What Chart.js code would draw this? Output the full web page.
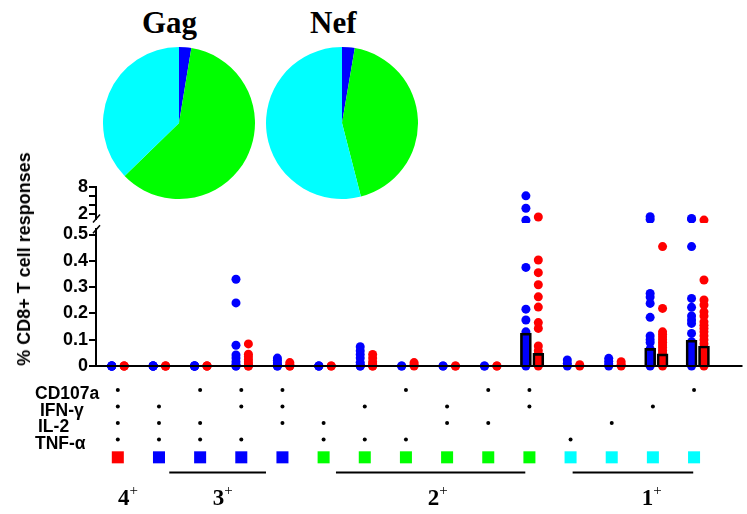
<!DOCTYPE html>
<html>
<head>
<meta charset="utf-8">
<script src="https://cdn.jsdelivr.net/npm/chart.js@4.4.1/dist/chart.umd.min.js"></script>
<style>
  html, body { margin: 0; padding: 0; background: #fff; }
  #wrap { position: relative; width: 747px; height: 514px; overflow: hidden; }
  #wrap canvas, #wrap .lbl { position: absolute; }
  .pieTitle { font: bold 31px 'Liberation Serif', 'Times New Roman', serif; line-height: 1; }
  .rowLbl { font: bold 17.5px 'Liberation Sans', Arial, sans-serif; line-height: 1; white-space: nowrap; }
  .grpLbl { font: bold 23px 'Liberation Serif', 'Times New Roman', serif; line-height: 1; white-space: nowrap; transform: translateX(-50%); }
  .grpLbl sup { font-weight: normal; font-size: 15px; vertical-align: baseline; position: relative; top: -10px; line-height: 0; }
  #yTitle { font: bold 18px 'Liberation Sans', Arial, sans-serif; line-height: 20px; white-space: nowrap;
            transform: translate(-50%, -50%) rotate(-90deg); }
</style>
</head>
<body>
<div id="wrap">
  <canvas id="gagPie" width="152" height="152" style="left:103px; top:47px"></canvas>
  <canvas id="nefPie" width="152" height="152" style="left:266px; top:47px"></canvas>
  <canvas id="upper" width="747" height="65" style="left:0; top:170px"></canvas>
  <canvas id="lower" width="747" height="167" style="left:0; top:213px"></canvas>
  <canvas id="table" width="747" height="139" style="left:0; top:375px"></canvas>
  <div class="lbl pieTitle" style="left:142px; top:7px">Gag</div>
  <div class="lbl pieTitle" style="left:310px; top:7px">Nef</div>
  <div class="lbl" id="yTitle" style="left:24px; top:259px">% CD8+ T cell responses</div>
</div>
<script>
// pie charts: share of each functional group
const pieLabels = ['4+', '3+', '2+', '1+']
const gagShare = [0, 2.6, 60.1, 37.3]
const nefShare = [0, 2.7, 43.3, 54.0]

// functions measured, one flag per column (15 columns)
const cytokines = ['CD107a', 'IFN-γ', 'IL-2', 'TNF-α']
const cd107a = [1, 0, 1, 1, 1, 0, 0, 1, 0, 1, 1, 0, 0, 0, 1]
const ifng   = [1, 1, 0, 1, 1, 0, 1, 0, 1, 0, 1, 0, 0, 1, 0]
const il2    = [1, 1, 1, 0, 1, 1, 0, 0, 1, 1, 0, 0, 1, 0, 0]
const tnfa   = [1, 1, 1, 1, 0, 1, 1, 1, 0, 0, 0, 1, 0, 0, 0]
const groups = ['4', '3', '2', '1']

// responses per column (blue = Gag, red = Nef)
const gagResponses = [
  [0, 0, 0, 0, 0],
  [0, 0, 0, 0, 0],
  [0, 0, 0, 0, 0],
  [0.33, 0.24, 0.079, 0.042, 0.03, 0.016, 0.005, 0, 0],
  [0.03, 0.022, 0.012, 0.005, 0, 0],
  [0, 0, 0],
  [0.073, 0.058, 0.044, 0.03, 0.014, 0.005, 0, 0],
  [0, 0],
  [0, 0],
  [0, 0],
  [6.04, 3.29, 0.6, 0.375, 0.216, 0.175, 0.13, 0.115, 0.1, 0.085, 0.07, 0.055, 0.045, 0.035, 0.025, 0.015, 0.005, 0],
  [0.023, 0.01, 0],
  [0.029, 0.018, 0.008, 0],
  [1.4, 0.8, 0.276, 0.262, 0.238, 0.185, 0.114, 0.1, 0.089, 0.065, 0.05, 0.04, 0.03, 0.02, 0.01, 0],
  [1.0, 0.85, 0.454, 0.257, 0.223, 0.19, 0.175, 0.162, 0.124, 0.092, 0.08, 0.065, 0.05, 0.035, 0.02, 0.01, 0]
]
const nefResponses = [
  [0, 0, 0],
  [0, 0, 0],
  [0, 0, 0],
  [0.084, 0.045, 0.035, 0.025, 0.015, 0.008, 0, 0],
  [0.013, 0.006, 0, 0],
  [0, 0],
  [0.044, 0.03, 0.016, 0.008, 0, 0],
  [0.013, 0.005, 0],
  [0, 0],
  [0, 0],
  [1.33, 0.403, 0.355, 0.309, 0.263, 0.224, 0.165, 0.143, 0.076, 0.058, 0.045, 0.035, 0.02, 0],
  [0.005, 0],
  [0.016, 0.006, 0],
  [0.454, 0.219, 0.13, 0.12, 0.11, 0.1, 0.09, 0.08, 0.07, 0.06, 0.05, 0.04, 0.03, 0.02, 0.01, 0],
  [0.65, 0.327, 0.251, 0.232, 0.206, 0.19, 0.168, 0.155, 0.143, 0.13, 0.115, 0.1, 0.085, 0.07, 0.055, 0.04, 0.025, 0.012, 0]
]
const gagMedian = [0, 0, 0, 0, 0, 0, 0, 0, 0, 0, 0.125, 0, 0, 0.067, 0.098]
const nefMedian = [0, 0, 0, 0, 0, 0, 0, 0, 0, 0, 0.048, 0, 0, 0.046, 0.076]

// axis ticks
const upperTicks = [2, 4, 6, 8]
const upperTickLabels = ['2', '', '', '8']
const lowerTicks = [0, 0.1, 0.2, 0.3, 0.4, 0.5]
const lowerTickLabels = ['0', '0.1', '0.2', '0.3', '0.4', '0.5']

// layout bits
const BLUE = '#0000ff', RED = '#ff0000', GREEN = '#00ff00', CYAN = '#00ffff'
const groupColor = { 4: RED, 3: BLUE, 2: GREEN, 1: CYAN }
const pieColors = [RED, BLUE, GREEN, CYAN]
const xMin = 0.47, xMax = 16.08
const lowerMax = 0.52
const dodge = 0.15
const rowLabelLeft = [35, 40, 38, 35]
const groupLabelCol = [1.25, 3.55, 8.77, 13.97]
const groupLineCols = [null, [2.25, 4.6], [6.3, 10.9], [12.05, 14.98]]
const squareRow = 4.08, lineRow = 5, groupLabelRow = 7

Chart.defaults.color = '#000'
Chart.defaults.font.family = "'Liberation Sans', Arial, sans-serif"

const tickFont = { size: 18, weight: 'bold' }
const markers = [cd107a, ifng, il2, tnfa]
const nFunctions = cd107a.map((_, i) => markers.reduce((s, m) => s + m[i], 0))

const axisBreak = {
  id: 'axisBreak',
  afterDraw(chart, args, opts) {
    const { ctx, chartArea } = chart
    const y = opts.at === 'bottom' ? chartArea.bottom : chartArea.top
    const x = chartArea.left
    ctx.save()
    ctx.strokeStyle = '#000'
    ctx.lineWidth = 1.5
    ctx.beginPath()
    ctx.moveTo(x - 3, y + 4)
    ctx.lineTo(x + 4, y - 4)
    ctx.stroke()
    ctx.restore()
  }
}

const points = (series, offset, keep) => {
  const out = []
  series.forEach((vals, i) => vals.forEach(v => {
    if (keep(v)) out.push({ x: i + 1 + offset, y: v })
  }))
  return out
}

const dots = (data, color, clip) => ({
  type: 'scatter', data, order: 1, clip,
  pointRadius: 4.5, pointHoverRadius: 4.5, pointBorderWidth: 0,
  backgroundColor: color, borderColor: color
})

const xAxis = { type: 'linear', min: xMin, max: xMax, display: false, offset: false }

const yAxis = (min, max, ticks, labels, zeroLine) => ({
  type: 'linear', min, max,
  afterFit: s => { s.width = 96 },
  afterBuildTicks: s => { s.ticks = ticks.map(v => ({ value: v })) },
  ticks: {
    font: tickFont, padding: 1, autoSkip: false,
    callback: v => labels[ticks.indexOf(v)]
  },
  grid: {
    z: 1, lineWidth: 2, tickWidth: 2, tickLength: 7, tickColor: '#000', drawOnChartArea: true,
    color: c => (zeroLine && c.tick && c.tick.value === 0) ? '#000' : 'rgba(0,0,0,0)'
  },
  border: { display: true, color: '#000', width: 2, z: 1 }
})

const baseOptions = (padding, yCfg, at) => ({
  responsive: false, animation: false,
  layout: { padding },
  events: [],
  plugins: { legend: { display: false }, tooltip: { enabled: false }, axisBreak: { at } },
  scales: { x: xAxis, y: yCfg }
})

// upper segment, broken below 1; dots falling into the break are cut 4.5px under it
const upperClip = { left: false, right: false, top: false, bottom: 4.5 }
new Chart(document.getElementById('upper'), {
  type: 'scatter',
  data: {
    datasets: [
      dots(points(gagResponses, -dodge, v => v > lowerMax), BLUE, upperClip),
      dots(points(nefResponses, dodge, v => v > lowerMax), RED, upperClip)
    ]
  },
  options: baseOptions({ top: 17, bottom: 16.5, left: 0, right: 2 },
    yAxis(1, 8, upperTicks, upperTickLabels, false), 'bottom'),
  plugins: [axisBreak]
})

// lower segment (0 .. 0.5)
new Chart(document.getElementById('lower'), {
  type: 'scatter',
  data: {
    datasets: [
      dots(points(gagResponses, -dodge, v => v <= lowerMax), BLUE, false),
      dots(points(nefResponses, dodge, v => v <= lowerMax), RED, false),
      {
        type: 'bar', order: 0, grouped: false, barThickness: 11,
        data: gagMedian.map((v, i) => ({ x: i + 1 - dodge, y: v })),
        backgroundColor: 'rgba(0,0,0,0)', borderColor: '#000', borderWidth: 2
      },
      {
        type: 'bar', order: 0, grouped: false, barThickness: 11,
        data: nefMedian.map((v, i) => ({ x: i + 1 + dodge, y: v })),
        backgroundColor: 'rgba(0,0,0,0)', borderColor: '#000', borderWidth: 2
      }
    ]
  },
  options: baseOptions({ top: 167 - 14 - lowerMax * 263, bottom: 14, left: 0, right: 2 },
    yAxis(0, lowerMax, lowerTicks, lowerTickLabels, true), 'top'),
  plugins: [axisBreak]
})

// function table below the plot
const markerDots = []
markers.forEach((m, r) => m.forEach((on, i) => { if (on) markerDots.push({ x: i + 1, y: r }) }))

const tableDatasets = [
  {
    type: 'scatter', data: markerDots, clip: false,
    pointRadius: 2, pointBorderWidth: 0, backgroundColor: '#000'
  },
  {
    type: 'scatter', clip: false,
    data: nFunctions.map((n, i) => ({ x: i + 1, y: squareRow })),
    pointStyle: 'rect', pointRadius: 8.5, pointBorderWidth: 0,
    backgroundColor: nFunctions.map(n => groupColor[n])
  }
]
groupLineCols.forEach(span => {
  if (!span) return
  tableDatasets.push({
    type: 'line', clip: false, data: span.map(x => ({ x, y: lineRow })),
    borderColor: '#000', borderWidth: 2, pointRadius: 0
  })
})

const table = new Chart(document.getElementById('table'), {
  type: 'scatter',
  data: { datasets: tableDatasets },
  options: {
    responsive: false, animation: false, events: [],
    layout: { padding: { left: 96, right: 2, top: 15, bottom: 139 - 15 - 7 * 16.67 } },
    plugins: { legend: { display: false }, tooltip: { enabled: false } },
    scales: {
      x: xAxis,
      y: { type: 'linear', min: 0, max: 7, reverse: true, display: false }
    }
  }
})

const wrap = document.getElementById('wrap')
const tableTop = 375
cytokines.forEach((name, r) => {
  const d = document.createElement('div')
  d.className = 'lbl rowLbl'
  d.textContent = name
  d.style.left = rowLabelLeft[r] + 'px'
  d.style.top = (tableTop + table.scales.y.getPixelForValue(r) + 4 - 8.55) + 'px'
  wrap.appendChild(d)
})
groups.forEach((g, i) => {
  const d = document.createElement('div')
  d.className = 'lbl grpLbl'
  d.innerHTML = g + '<sup>+</sup>'
  d.style.left = table.scales.x.getPixelForValue(groupLabelCol[i]) + 'px'
  d.style.top = (tableTop + table.scales.y.getPixelForValue(groupLabelRow) - 19.3) + 'px'
  wrap.appendChild(d)
})

// pies
const pie = (id, share) => new Chart(document.getElementById(id), {
  type: 'pie',
  data: { labels: pieLabels, datasets: [{ data: share, backgroundColor: pieColors, borderWidth: 0 }] },
  options: {
    responsive: false, animation: false, events: [],
    plugins: { legend: { display: false }, tooltip: { enabled: false } }
  }
})
pie('gagPie', gagShare)
pie('nefPie', nefShare)
</script>
</body>
</html>
